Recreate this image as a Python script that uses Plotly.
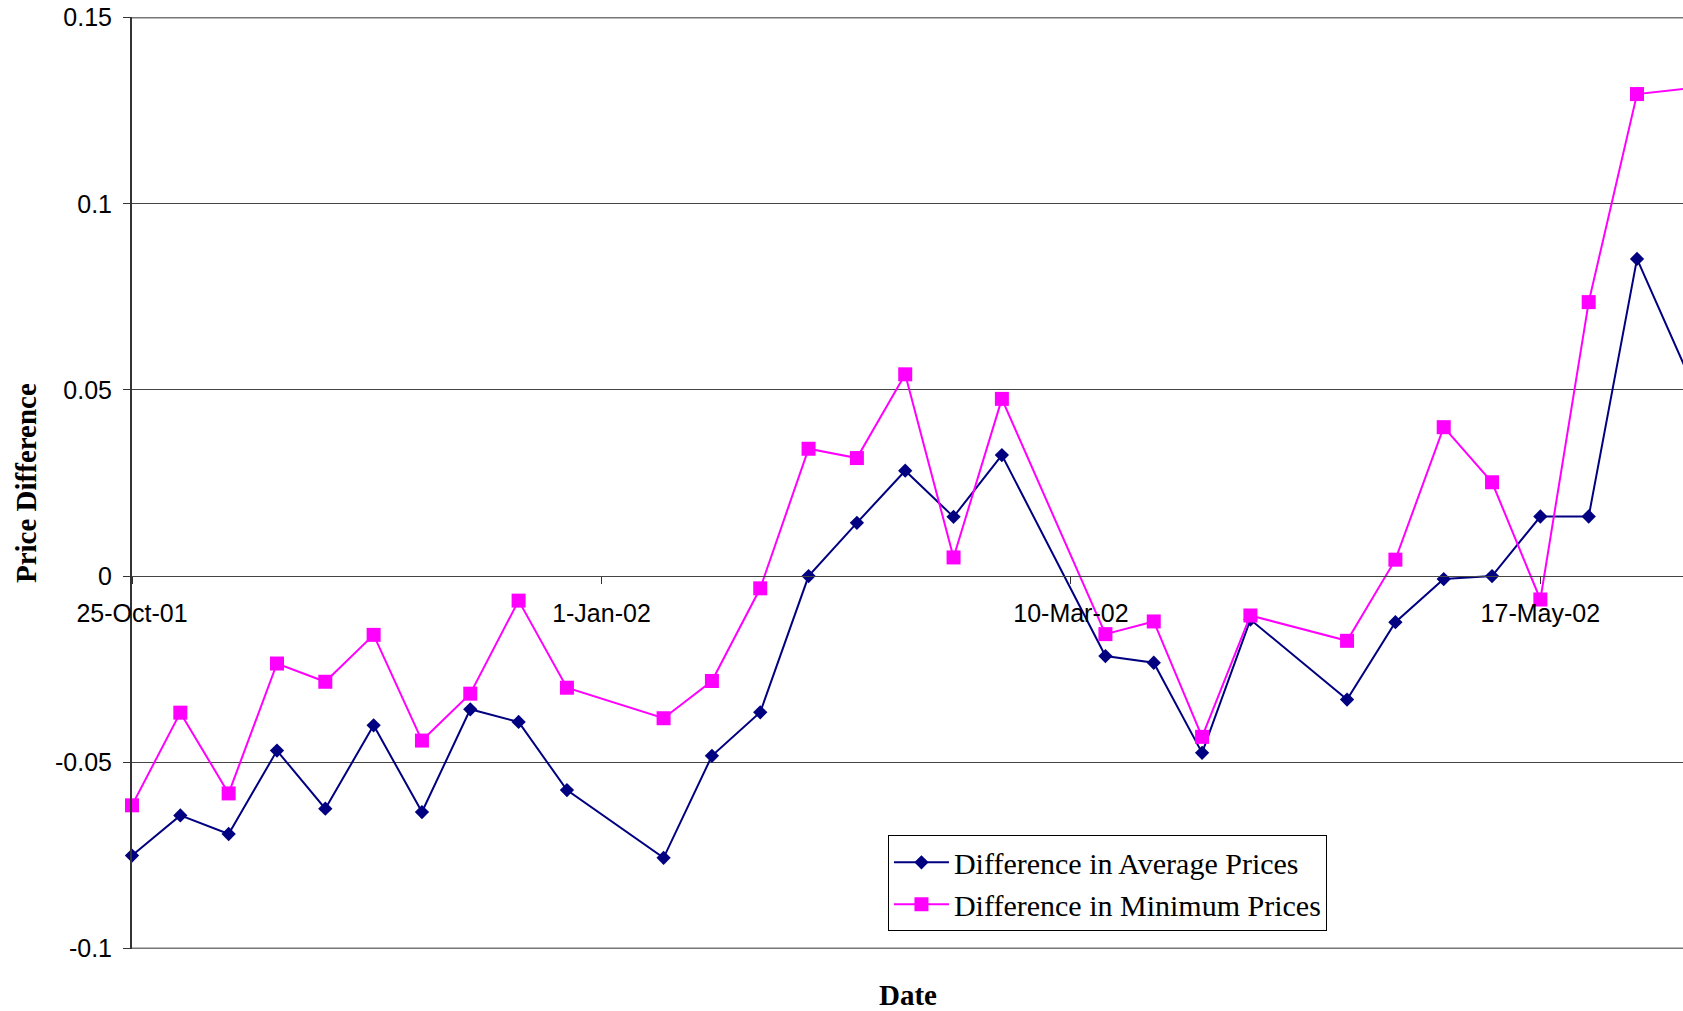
import plotly.graph_objects as go

# Weekly observation dates
dates = [
    "2001-10-25", "2001-11-01", "2001-11-08", "2001-11-15", "2001-11-22",
    "2001-11-29", "2001-12-06", "2001-12-13", "2001-12-20", "2001-12-27",
    "2002-01-10", "2002-01-17", "2002-01-24", "2002-01-31", "2002-02-07",
    "2002-02-14", "2002-02-21", "2002-02-28", "2002-03-15", "2002-03-22",
    "2002-03-29", "2002-04-05", "2002-04-19", "2002-04-26", "2002-05-03",
    "2002-05-10", "2002-05-17", "2002-05-24", "2002-05-31", "2002-06-07",
]

avg_diff = [
    -0.0751, -0.0643, -0.0693, -0.0469, -0.0625,
    -0.0401, -0.0634, -0.0358, -0.0392, -0.0575,
    -0.0757, -0.0483, -0.0366, 0.0000, 0.0143,
    0.0283, 0.0159, 0.0325, -0.0215, -0.0233,
    -0.0475, -0.0117, -0.0332, -0.0124, -0.0008,
    0.0000, 0.0160, 0.0160, 0.0852, 0.0559,
]

min_diff = [
    -0.0616, -0.0367, -0.0584, -0.0235, -0.0284,
    -0.0158, -0.0442, -0.0316, -0.0066, -0.0300,
    -0.0382, -0.0282, -0.0033, 0.0342, 0.0317,
    0.0542, 0.0050, 0.0476, -0.0156, -0.0122,
    -0.0432, -0.0106, -0.0174, 0.0044, 0.0400,
    0.0252, -0.0063, 0.0736, 0.1295, 0.1309,
]

x_tick_vals = ["2001-10-25", "2002-01-01", "2002-03-10", "2002-05-17"]
x_tick_text = ["25-Oct-01", "1-Jan-02", "10-Mar-02", "17-May-02"]

y_tick_vals = [0.15, 0.1, 0.05, 0, -0.05, -0.1]
y_tick_text = ["0.15", "0.1", "0.05", "0", "-0.05", "-0.1"]

SERIF = "Liberation Serif, Times New Roman, serif"
SANS = "Liberation Sans, Arial, sans-serif"

fig = go.Figure()

fig.add_trace(go.Scatter(
    x=dates, y=avg_diff, mode="lines+markers",
    name="Difference in Average Prices",
    line=dict(color="#000080", width=2),
    marker=dict(symbol="diamond", size=11, color="#000080"),
    cliponaxis=False,
))

fig.add_trace(go.Scatter(
    x=dates, y=min_diff, mode="lines+markers",
    name="Difference in Minimum Prices",
    line=dict(color="#FF00FF", width=2),
    marker=dict(symbol="square", size=14, color="#FF00FF"),
    cliponaxis=False,
))

# Frame lines at the top and bottom of the value range
for edge in (y_tick_vals[0], y_tick_vals[-1]):
    fig.add_shape(type="line", xref="paper", yref="y",
                  x0=0, x1=1, y0=edge, y1=edge,
                  line=dict(color="#777", width=1.5), layer="below")

fig.update_layout(
    width=1683, height=1011,
    margin=dict(l=132, r=0, t=17, b=62),
    paper_bgcolor="white", plot_bgcolor="white",
    showlegend=True,
    legend=dict(
        x=0.4874, y=0.122, xanchor="left", yanchor="top",
        bgcolor="white", bordercolor="black", borderwidth=1,
        font=dict(family=SERIF, size=30, color="black"),
        itemwidth=55, tracegroupgap=0,
    ),
    xaxis=dict(
        type="date",
        range=["2001-10-25", "2002-06-06 15:50"],
        anchor="free", position=0.4,
        tickvals=x_tick_vals, ticktext=x_tick_text,
        ticks="outside", ticklen=7, tickcolor="#333",
        ticklabelstandoff=8,
        showline=True, linecolor="#444", linewidth=1,
        showgrid=False, zeroline=False,
        tickfont=dict(family=SANS, size=25, color="black"),
    ),
    yaxis=dict(
        range=[-0.1002, 0.1502],
        tickvals=y_tick_vals, ticktext=y_tick_text,
        ticks="outside", ticklen=7, tickcolor="#333",
        ticklabelstandoff=6,
        showline=True, linecolor="#333", linewidth=2,
        showgrid=True, gridcolor="#444", gridwidth=1,
        zeroline=False,
        tickfont=dict(family=SANS, size=25, color="black"),
    ),
    annotations=[
        dict(text="<b>Date</b>", xref="paper", yref="paper",
             x=0.5, y=-0.049, xanchor="center", yanchor="middle",
             showarrow=False, font=dict(family=SERIF, size=29, color="black")),
        dict(text="<b>Price Difference</b>", xref="paper", yref="paper",
             x=-0.0683, y=0.5, xanchor="center", yanchor="middle",
             textangle=-90, showarrow=False,
             font=dict(family=SERIF, size=29, color="black")),
    ],
)

fig.write_html("out.html")
